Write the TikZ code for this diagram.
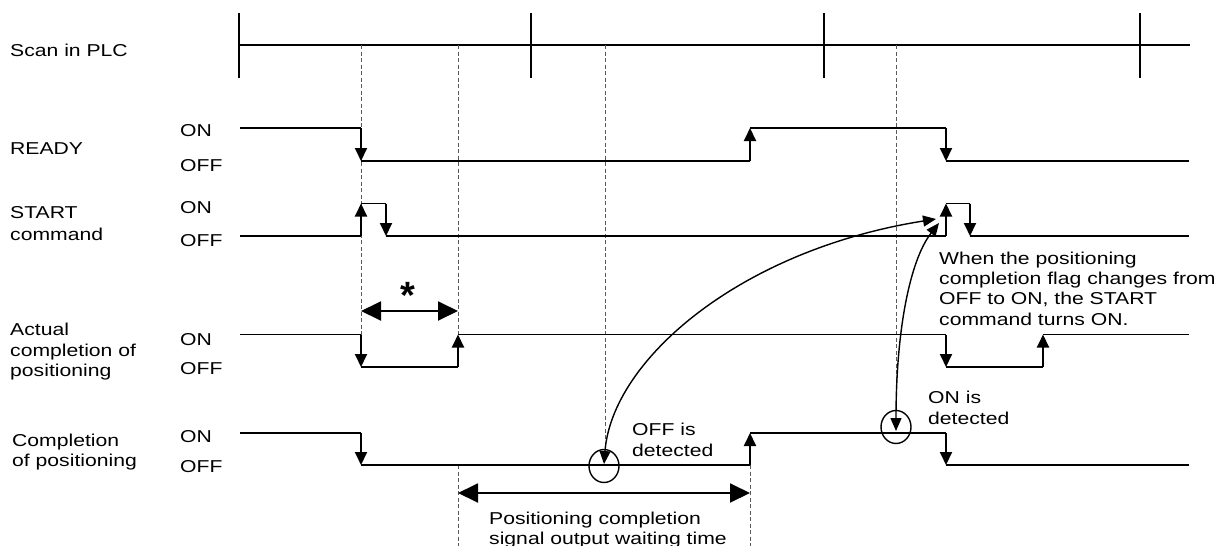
\documentclass[tikz,border=0pt]{standalone}
\usepackage{fontspec}
\setmainfont{Liberation Sans}[FakeStretch=1.23]
\newfontfamily\starfont{Liberation Sans}
\usetikzlibrary{arrows.meta}
\begin{document}
\begin{tikzpicture}[x=1pt,y=-1pt,
  every node/.style={font=\fontsize{17.2}{20.5}\selectfont},
  lbl/.style={anchor=base west, inner sep=0pt},
  sig/.style={line width=1.9pt},
  edgearr/.style={line width=1.9pt, -{Triangle[length=13pt,width=12pt]}},
  dimarr/.style={line width=1.9pt, {Triangle[length=20pt,width=19pt]}-{Triangle[length=20pt,width=19pt]}},
  guide/.style={black!65, line width=0.9pt, dash pattern=on 4pt off 2.5pt},
  ring/.style={line width=1.4pt},
  curv/.style={line width=1.4pt, {Triangle[length=13pt,width=11pt]}-{Triangle[length=13pt,width=11pt]}}]
\useasboundingbox (0,0) rectangle (1226,546);

% ---------------- Scan in PLC ----------------
\node[lbl] (scanlbl) at (10,56) {Scan in PLC};
\draw[sig] (240,45) -- (1190,45);
\foreach \x in {239,531,824,1140} \draw[line width=1.6pt] (\x,13) -- (\x,78);

% ---------------- guide (dashed) lines ----------------
\draw[guide] (361,45) -- (361,334.5);
\draw[guide] (458,45) -- (458,334.5);
\draw[guide] (458,465) -- (458,546);
\draw[guide] (605,45) -- (605,450);
\draw[guide] (750,465) -- (750,546);
\draw[guide] (896,45) -- (896,411);

% ---------------- READY ----------------
\node[lbl] (rdylbl) at (10,154) {READY};
\node[lbl] (rdyon) at (180,136.5) {ON};
\node[lbl] (rdyoff) at (180,171.5) {OFF};
\draw[sig] (240,128) -- (361,128);
\draw[edgearr] (361,128) -- (361,161);
\draw[sig] (361,161) -- (750,161);
\draw[edgearr] (750,161) -- (750,128);
\draw[sig] (750,128) -- (946,128);
\draw[edgearr] (946,128) -- (946,161);
\draw[sig] (946,161) -- (1189,161);

% ---------------- START command ----------------
\node[lbl] (stlbl1) at (10,218) {START};
\node[lbl] (stlbl2) at (10,240) {command};
\node[lbl] (ston) at (180,213) {ON};
\node[lbl] (stoff) at (180,246) {OFF};
\draw[sig] (240,236) -- (361,236);
\draw[edgearr] (361,236) -- (361,203.5);
\draw[sig] (361,203.5) -- (386,203.5);
\draw[edgearr] (386,203.5) -- (386,236);
\draw[sig] (386,236) -- (946,236);
\draw[edgearr] (946,236) -- (946,203.5);
\draw[sig] (946,203.5) -- (970,203.5);
\draw[edgearr] (970,203.5) -- (970,236);
\draw[sig] (970,236) -- (1189,236);

% ---------------- Actual completion of positioning ----------------
\node[lbl] (aclbl1) at (10,335) {Actual};
\node[lbl] (aclbl2) at (10,356) {completion of};
\node[lbl] (aclbl3) at (10,376.5) {positioning};
\node[lbl] (acon) at (180,345) {ON};
\node[lbl] (acoff) at (180,374) {OFF};
\draw[sig] (240,334.5) -- (361,334.5);
\draw[edgearr] (361,334.5) -- (361,367);
\draw[sig] (361,367) -- (458,367);
\draw[edgearr] (458,367) -- (458,334.5);
\draw[sig] (458,334.5) -- (946,334.5);
\draw[edgearr] (946,334.5) -- (946,367);
\draw[sig] (946,367) -- (1043,367);
\draw[edgearr] (1043,367) -- (1043,334.5);
\draw[sig] (1043,334.5) -- (1189,334.5);

% star dimension
\coordinate (s1) at (361,311);
\coordinate (s2) at (458,311);
\draw[dimarr] (s1) -- (s2);
\node[anchor=base, inner sep=0pt, font=\starfont\bfseries\fontsize{38}{38}\selectfont] (star) at (408,308) {*};

% ---------------- Completion of positioning ----------------
\node[lbl] (cplbl1) at (12,446) {Completion};
\node[lbl] (cplbl2) at (12,466.5) {of positioning};
\node[lbl] (cpon) at (180,442.5) {ON};
\node[lbl] (cpoff) at (180,472.5) {OFF};
\draw[sig] (240,433) -- (361,433);
\draw[edgearr] (361,433) -- (361,465);
\draw[sig] (361,465) -- (750,465);
\draw[edgearr] (750,465) -- (750,433);
\draw[sig] (750,433) -- (946,433);
\draw[edgearr] (946,433) -- (946,465);
\draw[sig] (946,465) -- (1189,465);

% waiting time dimension
\coordinate (w1) at (458,493);
\coordinate (w2) at (750,493);
\draw[dimarr] (w1) -- (w2);
\node[lbl] (wt1) at (489,524) {Positioning completion};
\node[lbl] (wt2) at (489,544.5) {signal output waiting time};

% ---------------- detection circles and curved arrows ----------------
\coordinate (offc) at (604,466);
\coordinate (onc) at (896,427);
\draw[ring] (offc) ellipse [x radius=15, y radius=16.5];
\draw[ring] (onc) ellipse [x radius=15, y radius=16.5];
\coordinate (offtip) at (604,464);
\coordinate (ontip) at (896,431);
\coordinate (sttip1) at (936,219);
\coordinate (sttip2) at (939,223);
\draw[curv] (sttip1) .. controls (740,250) and (612,360) .. (offtip);
\draw[curv] (sttip2) .. controls (910,260) and (896,330) .. (ontip);

\node[lbl] (offis1) at (632,435) {OFF is};
\node[lbl] (offis2) at (632,456) {detected};
\node[lbl] (onis1) at (928,403.5) {ON is};
\node[lbl] (onis2) at (928,424) {detected};

\node[lbl] (note1) at (939,264) {When the positioning};
\node[lbl] (note2) at (939,284.5) {completion flag changes from};
\node[lbl] (note3) at (939,304.5) {OFF to ON, the START};
\node[lbl] (note4) at (939,325) {command turns ON.};
\end{tikzpicture}
\end{document}
